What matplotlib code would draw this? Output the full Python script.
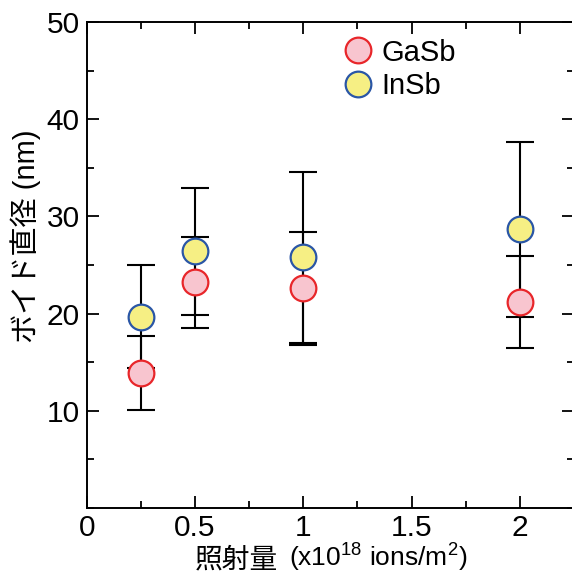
import matplotlib
matplotlib.use('Agg')
import matplotlib.pyplot as plt
from matplotlib.lines import Line2D
from matplotlib.ticker import MultipleLocator

plt.rcParams['font.family'] = ['Liberation Sans', 'Noto Sans CJK JP']
plt.rcParams['mathtext.fontset'] = 'custom'
plt.rcParams['mathtext.rm'] = 'Liberation Sans'
plt.rcParams['mathtext.default'] = 'rm'

# data
dose = [0.25, 0.5, 1.0, 2.0]
gasb = [13.9, 23.2, 22.6, 21.2]
gasb_err = [3.8, 4.7, 5.8, 4.7]
insb = [19.7, 26.4, 25.8, 28.7]
insb_err = [5.3, 6.5, 8.8, 9.0]

fig = plt.figure(figsize=(5.72, 5.76), dpi=100)
ax = fig.add_axes([86.7/572, 68/576, (574-86.7)/572, (508-22)/576])

# error bars first, markers on top
ax.errorbar(dose, insb, yerr=insb_err, fmt='none', ecolor='black',
            elinewidth=1.5, capsize=10, capthick=1.5, zorder=2)
ax.errorbar(dose, gasb, yerr=gasb_err, fmt='none', ecolor='black',
            elinewidth=1.5, capsize=10, capthick=1.5, zorder=2)
ax.plot(dose, insb, 'o', ms=18.5, mfc='#f6ef84', mec='#2a56a6', mew=1.6,
        linestyle='none', zorder=3)
ax.plot(dose, gasb, 'o', ms=18.5, mfc='#f8c5cf', mec='#e8262a', mew=1.6,
        linestyle='none', zorder=4)

ax.set_xlim(0, 2.25)
ax.set_ylim(0, 50)
ax.xaxis.set_minor_locator(MultipleLocator(0.25))
ax.yaxis.set_minor_locator(MultipleLocator(5))
ax.set_xticks([0, 0.5, 1, 1.5, 2])
ax.set_xticklabels(['0', '0.5', '1', '1.5', '2'])
ax.set_yticks([10, 20, 30, 40, 50])
ax.tick_params(which='both', direction='in', top=True, right=True,
               width=1.3, labelsize=21.5, pad=5)
ax.tick_params(axis='x', pad=4)
ax.tick_params(which='major', length=8.5)
ax.tick_params(which='minor', length=5)
for s in ax.spines.values():
    s.set_linewidth(1.4)

# legend
handles = [
    Line2D([], [], marker='o', ms=18.5, mfc='#f8c5cf', mec='#e8262a', mew=1.6, linestyle='none'),
    Line2D([], [], marker='o', ms=18.5, mfc='#f6ef84', mec='#2a56a6', mew=1.6, linestyle='none'),
]
ax.legend(handles, ['GaSb', 'InSb'], loc='upper left', bbox_to_anchor=(0.5, 0.99),
          frameon=False, fontsize=21, handletextpad=0.25, labelspacing=0.18,
          handlelength=1.1, borderaxespad=0)

# axis labels
fig.text(26/572, 1 - 236/576, 'ボイド直径 (nm)', rotation=90, ha='center', va='center',
         fontsize=21)
fig.text(278/572, 1 - 567/576, '照射量', ha='right', va='baseline', fontsize=20)
fig.text(289/572, 1 - 567/576, r'(x10$^{18}$ ions/m$^{2}$)', ha='left', va='baseline',
         fontsize=19)

fig.savefig('out.png', dpi=100)
